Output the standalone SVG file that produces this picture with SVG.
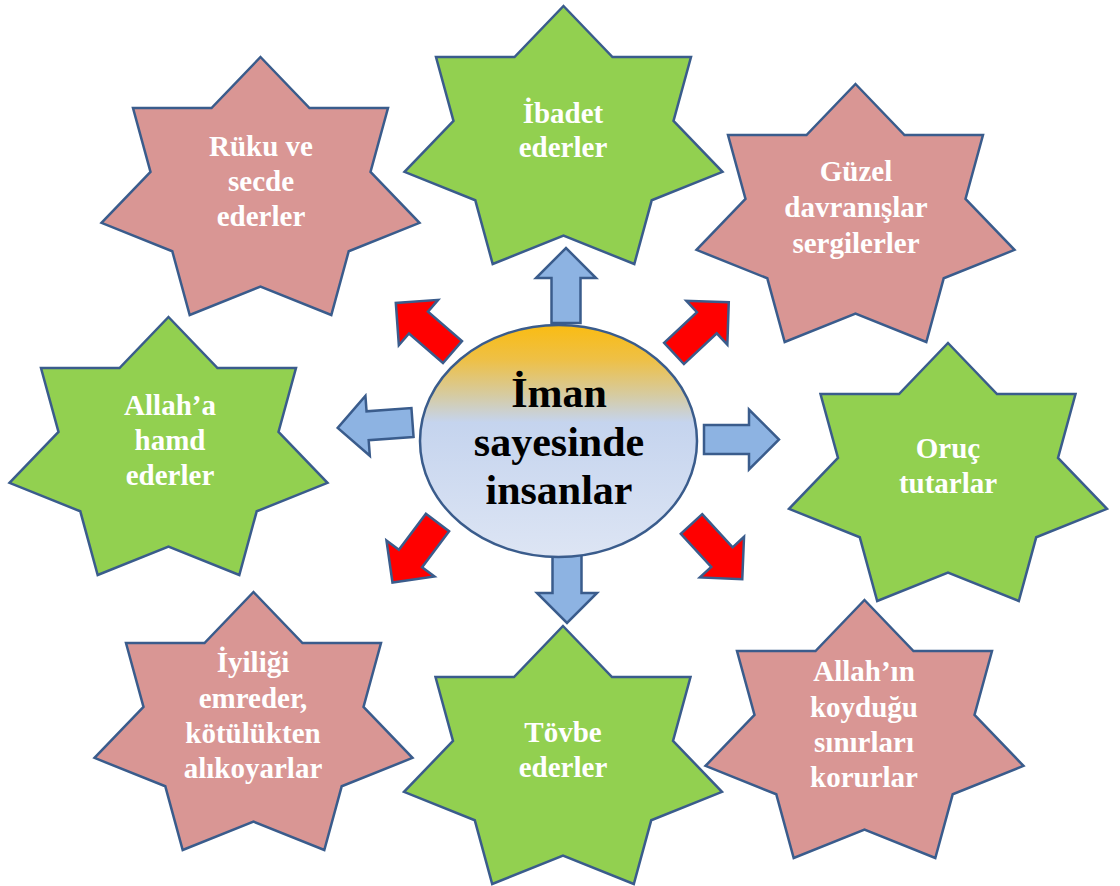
<svg xmlns="http://www.w3.org/2000/svg" xmlns:xlink="http://www.w3.org/1999/xlink" width="1120" height="886" viewBox="0 0 1120 886">
<style>
.star{stroke:#3A5C8C;stroke-width:2.5;stroke-linejoin:miter}
.g{fill:#92D050}
.p{fill:#D99694}
.lbl{font-family:"Liberation Serif","Times New Roman",serif;font-weight:bold;font-size:29px;fill:#FFFFFF;text-anchor:middle}
.ctr{font-family:"Liberation Serif","Times New Roman",serif;font-weight:bold;font-size:42px;fill:#000000;text-anchor:middle}
.arr{stroke:#3A5C8C;stroke-width:2.5;stroke-linejoin:miter}
.blue{fill:#8DB3E2}
.red{fill:#FF0000}
</style>
<defs>
<path id="star7" d="M0,-135.7 L49,-84.6 L127.5,-84.6 L110,-20.9 L159,30.2 L88.2,58.6 L70.8,122.3 L0,93.9 L-70.8,122.3 L-88.2,58.6 L-159,30.2 L-110,-20.9 L-127.5,-84.6 L-49,-84.6 Z"/>
<path id="arrow" d="M0,-14.5 L45,-14.5 L45,-30 L75,0 L45,30 L45,14.5 L0,14.5 Z"/>
<linearGradient id="cg" x1="0" y1="0" x2="0" y2="1">
<stop offset="0" stop-color="#FABC12"/>
<stop offset="0.15" stop-color="#EEC046"/>
<stop offset="0.3" stop-color="#D6CBA0"/>
<stop offset="0.42" stop-color="#C5D4EE"/>
<stop offset="1" stop-color="#DDE5F4"/>
</linearGradient>
</defs>
<rect width="1120" height="886" fill="#FFFFFF"/>

<g id="connectors">
<use xlink:href="#arrow" href="#arrow" class="arr blue" transform="translate(566,323) rotate(-90)"/>
<use xlink:href="#arrow" href="#arrow" class="arr blue" transform="translate(567,548) rotate(90)"/>
<use xlink:href="#arrow" href="#arrow" class="arr blue" transform="translate(704,439.5)"/>
<use xlink:href="#arrow" href="#arrow" class="arr blue" transform="translate(412.5,422.5) rotate(175.8)"/>
<use xlink:href="#arrow" href="#arrow" class="arr red" transform="translate(452.5,352) rotate(-139.1)"/>
<use xlink:href="#arrow" href="#arrow" class="arr red" transform="translate(674,353.5) rotate(-43.1)"/>
<use xlink:href="#arrow" href="#arrow" class="arr red" transform="translate(437.5,522.5) rotate(126.9)"/>
<use xlink:href="#arrow" href="#arrow" class="arr red" transform="translate(691.5,524) rotate(47.4)"/>
</g>

<g id="center">
<ellipse cx="558.5" cy="441" rx="138.5" ry="116" fill="url(#cg)" stroke="#3A5C8C" stroke-width="2.5"/>
<text class="ctr" x="559" y="407">İman</text>
<text class="ctr" x="559" y="456">sayesinde</text>
<text class="ctr" x="559" y="504">insanlar</text>
</g>

<g id="ibadet">
<use xlink:href="#star7" href="#star7" class="star g" transform="translate(563.5,141.7)"/>
<text class="lbl" x="563" y="123">İbadet</text>
<text class="lbl" x="563" y="157">ederler</text>
</g>

<g id="ruku">
<use xlink:href="#star7" href="#star7" class="star p" transform="translate(260.5,192.7)"/>
<text class="lbl" x="261" y="156">Rüku ve</text>
<text class="lbl" x="261" y="191">secde</text>
<text class="lbl" x="261" y="226">ederler</text>
</g>

<g id="guzel">
<use xlink:href="#star7" href="#star7" class="star p" transform="translate(855.5,219.7)"/>
<text class="lbl" x="856" y="181">Güzel</text>
<text class="lbl" x="856" y="217">davranışlar</text>
<text class="lbl" x="856" y="253">sergilerler</text>
</g>

<g id="hamd">
<use xlink:href="#star7" href="#star7" class="star g" transform="translate(168.5,452.7)"/>
<text class="lbl" x="170" y="415">Allah’a</text>
<text class="lbl" x="170" y="450">hamd</text>
<text class="lbl" x="170" y="485">ederler</text>
</g>

<g id="oruc">
<use xlink:href="#star7" href="#star7" class="star g" transform="translate(948,478.7)"/>
<text class="lbl" x="948" y="458">Oruç</text>
<text class="lbl" x="948" y="493">tutarlar</text>
</g>

<g id="iyilik">
<use xlink:href="#star7" href="#star7" class="star p" transform="translate(253.5,727.7)"/>
<text class="lbl" x="253" y="672">İyiliği</text>
<text class="lbl" x="253" y="708">emreder,</text>
<text class="lbl" x="253" y="743">kötülükten</text>
<text class="lbl" x="253" y="778">alıkoyarlar</text>
</g>

<g id="tovbe">
<use xlink:href="#star7" href="#star7" class="star g" transform="translate(563,761.7)"/>
<text class="lbl" x="563" y="742">Tövbe</text>
<text class="lbl" x="563" y="777">ederler</text>
</g>

<g id="sinir">
<use xlink:href="#star7" href="#star7" class="star p" transform="translate(864.5,735.7)"/>
<text class="lbl" x="864" y="681">Allah’ın</text>
<text class="lbl" x="864" y="717">koyduğu</text>
<text class="lbl" x="864" y="752">sınırları</text>
<text class="lbl" x="864" y="787">korurlar</text>
</g>
</svg>
